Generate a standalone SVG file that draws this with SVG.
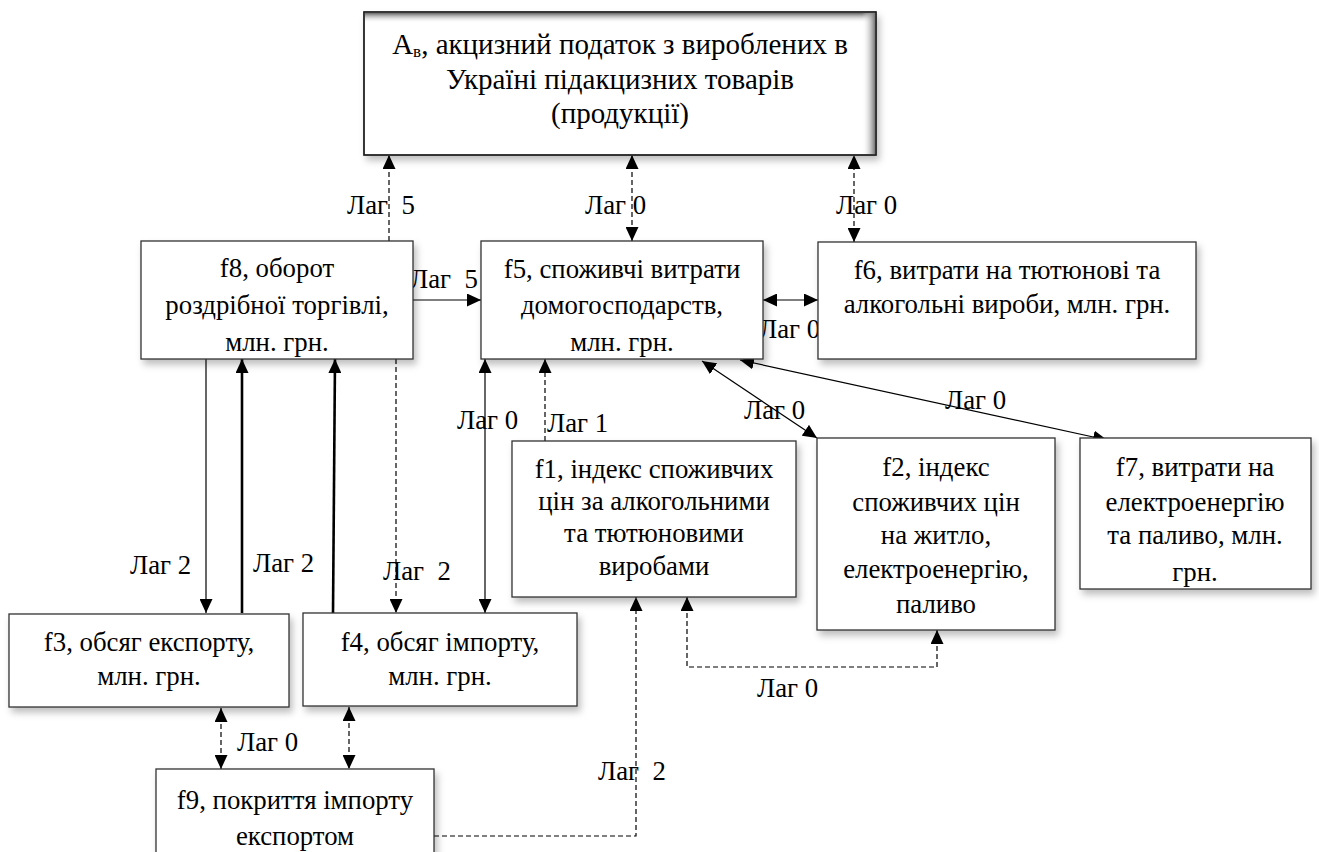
<svg xmlns="http://www.w3.org/2000/svg" width="1319" height="852" viewBox="0 0 1319 852">
<style>
.box{fill:#fff;stroke:#333;stroke-width:1.3}
.ln{fill:none;stroke:#000;stroke-width:1.2}
.d{stroke-dasharray:5 3}
.thick{stroke-width:2.6}
.a{marker-end:url(#ah)}
.aa{marker-end:url(#ah);marker-start:url(#ah)}
.t{font-family:'Liberation Serif','Times New Roman',serif;font-size:26.8px;fill:#000;white-space:pre}
.c{text-anchor:middle}
.top{font-size:29px}
</style>
<defs>
<marker id="ah" viewBox="0 0 14 13" refX="14" refY="6.5" markerWidth="14" markerHeight="13" markerUnits="userSpaceOnUse" orient="auto-start-reverse">
<path d="M0,0 L14,6.5 L0,13 z" fill="#000"/>
</marker>
<filter id="sh" x="-10%" y="-10%" width="125%" height="135%">
<feDropShadow dx="3" dy="5" stdDeviation="3.5" flood-color="#000" flood-opacity="0.25"/>
</filter>
<linearGradient id="gTop" x1="0" y1="0" x2="0" y2="1">
<stop offset="0" stop-color="#666"/>
<stop offset="1" stop-color="#fff" stop-opacity="0"/>
</linearGradient>
<linearGradient id="gRight" x1="0" y1="0" x2="1" y2="0">
<stop offset="0" stop-color="#fff" stop-opacity="0"/>
<stop offset="1" stop-color="#777"/>
</linearGradient>
<clipPath id="cf8"><rect x="141" y="241" width="272" height="118"/></clipPath>
<clipPath id="cf5"><rect x="481" y="241" width="282" height="118"/></clipPath>
<clipPath id="cf7"><rect x="1080" y="438" width="231" height="151"/></clipPath>
</defs>
<rect width="1319" height="852" fill="#fff"/>

<g id="connectors">
<line class="ln d a" x1="389" y1="241" x2="389" y2="155"/>
<line class="ln a" x1="413" y1="300" x2="481" y2="300"/>
<line class="ln d aa" x1="632" y1="241" x2="632" y2="155"/>
<line class="ln d aa" x1="854" y1="242" x2="854" y2="155"/>
<line class="ln aa" x1="763" y1="300" x2="818" y2="300"/>
<line class="ln a" x1="206" y1="359" x2="206" y2="613"/>
<line class="ln thick a" x1="242" y1="613" x2="242" y2="359"/>
<line class="ln thick a" x1="333" y1="613" x2="335" y2="359"/>
<line class="ln d a" x1="396" y1="359" x2="396" y2="613"/>
<line class="ln aa" x1="485" y1="359" x2="485" y2="613"/>
<line class="ln d a" x1="545" y1="441" x2="545" y2="359"/>
<line class="ln aa" x1="702" y1="361" x2="817" y2="438"/>
<line class="ln aa" x1="740" y1="360" x2="1107" y2="440"/>
<polyline class="ln d aa" points="687,597 687,667 937,667 937,630"/>
<polyline class="ln d a" points="434,836 636,836 636,597"/>
<line class="ln d aa" x1="221" y1="708" x2="221" y2="769"/>
<line class="ln d aa" x1="349" y1="707" x2="349" y2="769"/>
</g>

<g id="labels">
<text class="t" x="347" y="214" xml:space="preserve">Лаг  5</text>
<text class="t" x="410" y="288" xml:space="preserve">Лаг  5</text>
<text class="t" x="585" y="214">Лаг 0</text>
<text class="t" x="836" y="214">Лаг 0</text>
<text class="t" x="759" y="338">Лаг 0</text>
<text class="t" x="130" y="574">Лаг 2</text>
<text class="t" x="253" y="572">Лаг 2</text>
<text class="t" x="383" y="580" xml:space="preserve">Лаг  2</text>
<text class="t" x="457" y="429">Лаг 0</text>
<text class="t" x="547" y="432">Лаг 1</text>
<text class="t" x="744" y="419">Лаг 0</text>
<text class="t" x="945" y="409">Лаг 0</text>
<text class="t" x="757" y="697">Лаг 0</text>
<text class="t" x="598" y="780" xml:space="preserve">Лаг  2</text>
<text class="t" x="237" y="751">Лаг 0</text>
</g>

<g id="Av">
<rect class="box" x="364" y="12" width="512" height="143" filter="url(#sh)"/>
<rect x="365" y="13" width="510" height="10" fill="url(#gTop)"/>
<rect x="862" y="13" width="13" height="141" fill="url(#gRight)"/>
<rect x="364" y="12" width="512" height="143" fill="none" stroke="#222" stroke-width="1.5"/>
<text class="t top c" x="620" y="54">A<tspan font-size="17" dy="3">в</tspan><tspan dy="-3">, акцизний податок з вироблених в</tspan></text>
<text class="t top c" x="620" y="89">Україні підакцизних товарів</text>
<text class="t top c" x="620" y="123">(продукції)</text>
</g>

<g id="f8">
<rect class="box" x="141" y="241" width="272" height="118" filter="url(#sh)"/>
<g clip-path="url(#cf8)">
<text class="t c" x="277" y="277">f8, оборот</text>
<text class="t c" x="277" y="314">роздрібної торгівлі,</text>
<text class="t c" x="277" y="351">млн. грн.</text>
</g>
</g>

<g id="f5">
<rect class="box" x="481" y="241" width="282" height="118" filter="url(#sh)"/>
<g clip-path="url(#cf5)">
<text class="t c" x="622" y="278">f5, споживчі витрати</text>
<text class="t c" x="622" y="314">домогосподарств,</text>
<text class="t c" x="622" y="351">млн. грн.</text>
</g>
</g>

<g id="f6">
<rect class="box" x="818" y="242" width="378" height="117" filter="url(#sh)"/>
<text class="t c" x="1007" y="279">f6, витрати на тютюнові та</text>
<text class="t c" x="1007" y="313">алкогольні вироби, млн. грн.</text>
</g>

<g id="f1">
<rect class="box" x="512" y="441" width="284" height="156" filter="url(#sh)"/>
<text class="t c" x="654" y="478">f1, індекс споживчих</text>
<text class="t c" x="654" y="510">цін за алкогольними</text>
<text class="t c" x="654" y="542">та тютюновими</text>
<text class="t c" x="654" y="575">виробами</text>
</g>

<g id="f2">
<rect class="box" x="817" y="438" width="238" height="192" filter="url(#sh)"/>
<text class="t c" x="936" y="476">f2, індекс</text>
<text class="t c" x="936" y="511">споживчих цін</text>
<text class="t c" x="936" y="544">на житло,</text>
<text class="t c" x="936" y="578">електроенергію,</text>
<text class="t c" x="936" y="613">паливо</text>
</g>

<g id="f7">
<rect class="box" x="1080" y="438" width="231" height="151" filter="url(#sh)"/>
<g clip-path="url(#cf7)">
<text class="t c" x="1195" y="476">f7, витрати на</text>
<text class="t c" x="1195" y="511">електроенергію</text>
<text class="t c" x="1195" y="544">та паливо, млн.</text>
<text class="t c" x="1195" y="581">грн.</text>
</g>
</g>

<g id="f3">
<rect class="box" x="9" y="614" width="280" height="93" filter="url(#sh)"/>
<text class="t c" x="149" y="651">f3, обсяг експорту,</text>
<text class="t c" x="149" y="685">млн. грн.</text>
</g>

<g id="f4">
<rect class="box" x="303" y="613" width="274" height="93" filter="url(#sh)"/>
<text class="t c" x="440" y="651">f4, обсяг імпорту,</text>
<text class="t c" x="440" y="685">млн. грн.</text>
</g>

<g id="f9">
<rect class="box" x="156" y="769" width="278" height="100" filter="url(#sh)"/>
<text class="t c" x="295" y="809">f9, покриття імпорту</text>
<text class="t c" x="295" y="845">експортом</text>
</g>
</svg>
